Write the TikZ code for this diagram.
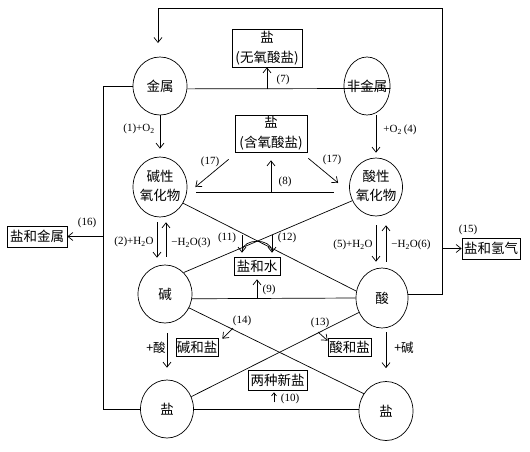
\documentclass[tikz,border=0pt]{standalone}
\usepackage{fontspec}
\setmainfont{Liberation Serif}
\newfontfamily\cjk{Noto Sans CJK SC}
\usetikzlibrary{shapes.geometric,arrows.meta,calc}
\begin{document}
\begin{tikzpicture}[x=1pt,y=-1pt,line width=0.7pt,
  arr/.style={-{Straight Barb[length=5pt,width=8pt]}},
  arrsmall/.style={-{Straight Barb[length=3pt,width=5pt]}},
  circ/.style={draw,ellipse,inner sep=0pt,font=\cjk\fontsize{13.5}{19}\selectfont},
  box/.style={draw,rectangle,inner sep=0pt,align=center,font=\cjk\fontsize{13.5}{20}\selectfont},
  lab/.style={inner sep=0pt,font=\fontsize{11}{12}\selectfont},
  clab/.style={inner sep=0pt,font=\cjk\fontsize{12.5}{14}\selectfont}]
\useasboundingbox (0,0) rectangle (530,451);

% circles
\node[circ,minimum width=54,minimum height=58] (jinshu) at (160,86) {\makebox[0pt]{金属}};
\node[circ,minimum width=46,minimum height=58] (feijinshu) at (367,86) {\makebox[0pt]{非金属}};
\node[circ,minimum width=54,minimum height=60] (jyh) at (160,187) {\makebox[0pt]{\begin{tabular}{@{}c@{}}碱性\\氧化物\end{tabular}}};
\node[circ,minimum width=53,minimum height=58] (syh) at (376,187) {\makebox[0pt]{\begin{tabular}{@{}c@{}}酸性\\氧化物\end{tabular}}};
\node[circ,minimum width=54,minimum height=58] (jian) at (165,294) {\makebox[0pt]{碱}};
\node[circ,minimum width=52,minimum height=60] (suan) at (382,298) {\makebox[0pt]{酸}};
\node[circ,minimum width=53,minimum height=58] (yanL) at (167,409) {\makebox[0pt]{盐}};
\node[circ,minimum width=54,minimum height=59] (yanR) at (386,411) {\makebox[0pt]{盐}};

% boxes
\node[box,minimum width=70,minimum height=38] (wuyang) at (267,48) {盐\\(无氧酸盐)};
\node[box,minimum width=72,minimum height=37] (hanyang) at (271,133.5) {盐\\(含氧酸盐)};
\node[box,minimum width=46,minimum height=18] (yanshui) at (257,266) {盐和水};
\node[box,minimum width=42,minimum height=18] (jianyan) at (197,347) {碱和盐};
\node[box,minimum width=43,minimum height=18] (suanyan) at (349.5,347) {酸和盐};
\node[box,minimum width=59,minimum height=20] (liangzhong) at (277.5,380) {两种新盐};
\node[box,minimum width=60,minimum height=21] (yanjinshu) at (37,236.5) {盐和金属};
\node[box,minimum width=58,minimum height=21] (yanqingqi) at (491,248.5) {盐和氢气};

% outer loop right/top
\coordinate (tr) at (442,8);
\coordinate (tl) at (158,8);
\coordinate (jtop) at (158,43);
\draw[arr] (suan.8) -| (tr) -- (tl) -- (jtop);
\coordinate (q15) at (442,248.5);
\draw[arr] (q15) -- (yanqingqi.west);

% outer loop left
\coordinate (ll) at (103,86);
\draw (jinshu.west) -- (ll) |- (yanL.west);
\coordinate (q16) at (103,236.5);
\draw[arr] (q16) -- (yanjinshu.east);

% metal - nonmetal (7)
\draw (jinshu.-6) -- (feijinshu.-6);
\draw[arr] (wuyang.south |- jinshu.-6) -- (wuyang.south);

% (1) and (4)
\draw[arr,shorten >=8pt] (jinshu.south) -- (jyh.north);
\draw[arr,shorten >=5pt] (syh.north |- feijinshu.south) -- (syh.north);

% (17)
\draw[arr] ($(hanyang.south west)+(-6,7)$) -- ($(jyh.east)+(8,0)$);
\draw[arr] ($(hanyang.south east)+(1,6)$) -- ($(syh.west)+(-11,-4)$);

% (8)
\coordinate (l8a) at ($(jyh.east)+(9,5)$);
\coordinate (l8b) at ($(syh.west)+(-15,5)$);
\draw (l8a) -- (l8b);
\draw[arr,shorten >=8pt] (l8a -| hanyang.south) -- (hanyang.south);

% (2)(3)
\draw[arr] ($(jyh.south)+(-3,5)$) -- ($(jian.north)+(-8,-7)$);
\draw[arr] ($(jian.north)+(1,-8)$) -- ($(jyh.south)+(6,5)$);
% (5)(6)
\draw[arr] ($(syh.south)+(0,9)$) -- ($(suan.north)+(-6,-6)$);
\draw[arr] ($(suan.north)+(4,-6)$) -- ($(syh.south)+(10,9)$);

% upper cross
\draw (jyh.-35) -- (suan.165);
\draw (syh.-150) -- (jian.49);

% (11)(12)
\coordinate (a11) at (242,235);
\coordinate (a12) at (272,235);
\draw[arr,shorten >=4pt] (a11) -- (a11 |- yanshui.north);
\draw[arr,shorten >=4pt] (a12) -- (a12 |- yanshui.north);
\coordinate (c11) at (242,251);
\coordinate (c12) at (272,251);
\draw (c11) .. controls (243,238) and (271,238) .. (c12);

% (9)
\draw (jian.-10) -- (suan.west);
\draw[arr,shorten >=4pt] (yanshui.south |- suan.west) -- (yanshui.south);

% lower cross
\draw (jian.-30) -- (yanR.142);
\draw (suan.-148) -- (yanL.27);

% (14)(13)
\coordinate (a14) at (233,328);
\draw[arr] (a14) -- ($(jianyan.north east)+(4,1)$);
\coordinate (a13) at (318,332);
\draw[arr] (a13) -- ($(suanyan.north west)+(0,3)$);

% +acid, +base
\draw[arr] ($(jian.south)+(2,10)$) -- ($(yanL.north)+(0,-12)$);
\draw[arr] ($(suan.south)+(4,4)$) -- ($(yanR.north)+(0,-13)$);

% (10)
\draw (yanL.east) -- (yanR.west |- yanL.east);
\draw[arrsmall] ($(liangzhong.south)+(-3.5,12)$) -- ($(liangzhong.south)+(-3.5,2)$);

% labels
\node[lab] (t1) at (139,129) {(1)+O\textsubscript{2}};
\node[lab] (t4) at (400,130) {+O\textsubscript{2}\,(4)};
\node[lab] (t7) at (283,80) {(7)};
\node[lab] (t17a) at (210,162) {(17)};
\node[lab] (t17b) at (332,160) {(17)};
\node[lab] (t8) at (285,182) {(8)};
\node[lab] (t2) at (134,242) {(2)+H\textsubscript{2}O};
\node[lab] (t3) at (191,243) {−H\textsubscript{2}O(3)};
\node[lab] (t5) at (353,245) {(5)+H\textsubscript{2}O};
\node[lab] (t6) at (411,245) {−H\textsubscript{2}O(6)};
\node[lab] (t11) at (227,238) {(11)};
\node[lab] (t12) at (287,238) {(12)};
\node[lab] (t9) at (269,290) {(9)};
\node[lab] (t14) at (242,321) {(14)};
\node[lab] (t13) at (320,323) {(13)};
\node[lab] (t10) at (290,399) {(10)};
\node[lab] (t16) at (87,223) {(16)};
\node[lab] (t15) at (468,230) {(15)};
\node[clab] (tsuan) at (156,348) {+酸};
\node[clab] (tjian) at (404,348) {+碱};
\end{tikzpicture}
\end{document}
